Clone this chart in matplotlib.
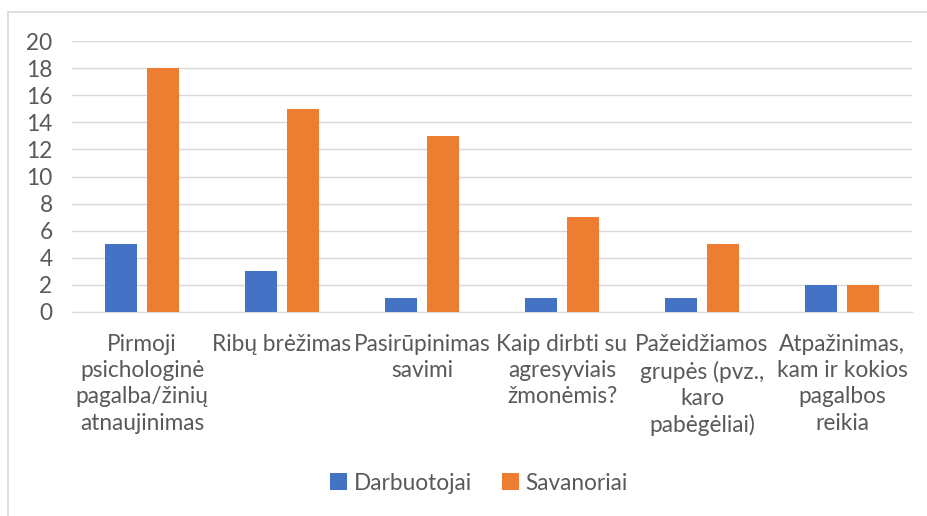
import matplotlib.pyplot as plt
import numpy as np
from matplotlib.patches import Rectangle

# data
categories = ['Pirmoji\npsichologinė\npagalba/žinių\natnaujinimas',
              'Ribų brėžimas',
              'Pasirūpinimas\nsavimi',
              'Kaip dirbti su\nagresyviais\nžmonėmis?',
              'Pažeidžiamos\ngrupės (pvz.,\nkaro\npabėgėliai)',
              'Atpažinimas,\nkam ir kokios\npagalbos\nreikia']
darbuotojai = [5, 3, 1, 1, 1, 2]
savanoriai = [18, 15, 13, 7, 5, 2]
yticks = list(range(0, 21, 2))

plt.rcParams['font.family'] = ['Lato', 'DejaVu Sans']
txt = '#595959'
fs = 16.3

fig = plt.figure(figsize=(9.27, 5.16), dpi=100)
ax = fig.add_axes([72/927, 1 - 312/516, 840/927, (312 - 41)/516])

# chart border (runs past the right and bottom edges)
fig.patches.append(Rectangle((8/927, -0.05), 1.2, 1 - 12/516 + 0.05,
                             transform=fig.transFigure, fill=False,
                             edgecolor='#D9D9D9', lw=1.2, clip_on=False))

x = np.arange(len(categories))
w = 0.229
ax.bar(x - 0.15, darbuotojai, w, color='#4472C4', label='Darbuotojai', zorder=3)
ax.bar(x + 0.15, savanoriai, w, color='#ED7D31', label='Savanoriai', zorder=3)

ax.set_xlim(-0.5, len(categories) - 0.5)
ax.set_ylim(0, 20)
ax.set_yticks(yticks)
ax.yaxis.grid(True, color='#D9D9D9', lw=1, zorder=0)
for s in ax.spines.values():
    s.set_visible(False)
ax.spines['bottom'].set_visible(True)
ax.spines['bottom'].set_color('#D9D9D9')
ax.tick_params(length=0, labelsize=fs, colors=txt)
ax.tick_params(axis='y', pad=14)
ax.set_xticks(x)
ax.set_xticklabels(categories, linespacing=1.3, va='top')
ax.tick_params(axis='x', pad=16)

fig.legend(loc='center', bbox_to_anchor=(479/927, 1 - 483/516), ncol=2,
           frameon=False, fontsize=fs, handlelength=0.75, handleheight=0.75,
           handletextpad=0.3, columnspacing=1.3, labelcolor=txt)

fig.savefig('out.png', dpi=100)
